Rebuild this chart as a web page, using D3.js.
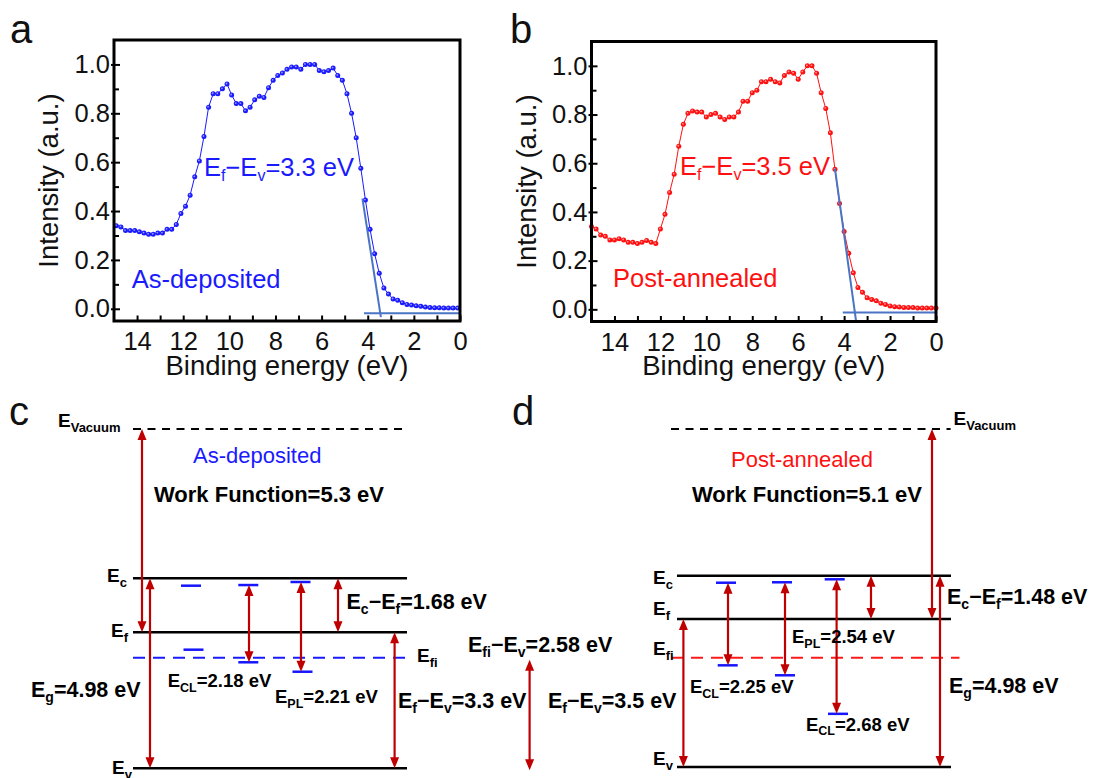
<!DOCTYPE html>
<html><head><meta charset="utf-8">
<script src="https://cdn.jsdelivr.net/npm/d3@7"></script>
<style>
body{margin:0;background:#fff;}
svg{display:block;font-family:"Liberation Sans",Arial,Helvetica,sans-serif;}
</style>
</head><body>
<svg id="fig" width="1095" height="778"></svg>
<script>
// ---------------- DATA ----------------
const energyA = [14.9,14.7,14.5,14.3,14.1,13.9,13.7,13.5,13.3,13.1,12.9,12.7,12.5,12.3,12.1,11.9,11.7,11.5,11.3,11.1,10.9,10.7,10.5,10.3,10.1,9.9,9.7,9.5,9.3,9.1,8.9,8.7,8.5,8.3,8.1,7.9,7.7,7.5,7.3,7.1,6.9,6.7,6.5,6.3,6.1,5.9,5.7,5.5,5.3,5.1,4.9,4.7,4.5,4.3,4.1,3.9,3.7,3.5,3.3,3.1,2.9,2.7,2.5,2.3,2.1,1.9,1.7,1.5,1.3,1.1,0.9,0.7,0.5,0.3,0.1];
const intensityA = [0.34,0.335,0.32,0.32,0.32,0.315,0.31,0.305,0.305,0.31,
  0.31,0.325,0.325,0.345,0.39,0.42,0.465,0.54,0.605,0.705,
  0.825,0.88,0.88,0.90,0.92,0.875,0.84,0.84,0.81,0.825,
  0.855,0.87,0.865,0.905,0.935,0.955,0.965,0.98,0.99,0.99,
  0.98,1.0,1.0,1.0,0.975,0.97,0.975,0.985,0.955,0.935,
  0.88,0.80,0.70,0.575,0.445,0.325,0.225,0.145,0.085,0.06,
  0.04,0.035,0.025,0.018,0.015,0.012,0.01,0.007,0.005,0.004,
  0.004,0.003,0.003,0.003,0.003];
const energyB = [15.0,14.8,14.6,14.4,14.2,14.0,13.8,13.6,13.4,13.2,13.0,12.8,12.6,12.4,12.2,12.0,11.8,11.6,11.4,11.2,11.0,10.8,10.6,10.4,10.2,10.0,9.8,9.6,9.4,9.2,9.0,8.8,8.6,8.4,8.2,8.0,7.8,7.6,7.4,7.2,7.0,6.8,6.6,6.4,6.2,6.0,5.8,5.6,5.4,5.2,5.0,4.8,4.6,4.4,4.2,4.0,3.8,3.6,3.4,3.2,3.0,2.8,2.6,2.4,2.2,2.0,1.8,1.6,1.4,1.2,1.0,0.8,0.6,0.4,0.2,0.0];
const intensityB = [0.34,0.33,0.305,0.30,0.285,0.285,0.29,0.285,0.275,0.275,
  0.27,0.275,0.283,0.275,0.27,0.33,0.39,0.48,0.555,0.67,
  0.76,0.805,0.815,0.81,0.81,0.79,0.80,0.805,0.79,0.78,
  0.79,0.79,0.81,0.855,0.855,0.89,0.90,0.935,0.935,0.945,
  0.935,0.93,0.96,0.975,0.97,0.945,0.975,1.0,1.0,0.97,
  0.89,0.825,0.725,0.575,0.435,0.32,0.23,0.15,0.09,0.07,
  0.048,0.04,0.035,0.025,0.02,0.014,0.011,0.01,0.008,0.007,
  0.007,0.005,0.005,0.005,0.005,0.005];
const tangentA = [[4.23,0.451],[3.43,-0.034]];
const baseA = [[4.16,-0.018],[0.03,-0.018]];
const tangentB = [[4.40,0.578],[3.48,-0.048]];
const baseB = [[4.06,-0.013],[0.0,-0.013]];
const xMajorTicks = [14,12,10,8,6,4,2,0];
const xMinorTicks = [13,11,9,7,5,3,1];
const yMajorTicks = [0.0,0.2,0.4,0.6,0.8,1.0];
const yMinorTicks = [0.1,0.3,0.5,0.7,0.9];

// band diagram energies (eV, schematic)
const levelsC = {vac:8.6, Ec:4.98, Ef:3.3, Efi:2.58, Ev:0};
const levelsD = {vac:8.6, Ec:4.98, Ef:3.5, Efi:2.58, Ev:0};
const defectsC = [4.75, 4.77, 4.865, 2.807, 2.473, 2.253];
const defectsD = [4.74, 4.755, 4.857, 2.40, 2.165, 1.255];
const transitionsC = [[4.77, 2.473], [4.865, 2.253]];
const transitionsD = [[4.74, 2.40], [4.755, 2.165], [4.857, 1.255]];

// ---------------- LAYOUT ----------------
const svg = d3.select("#fig");
const FONT_TICK = 25.5, FONT_TITLE = 27.5;
const BLUE = "#1a1aff", RED = "#ff1010", ARROW = "#c00000", TAN = "#4a74c4";

function rich(g, x, y, parts, o) {
  const t = g.append("text").attr("x", x).attr("y", y)
    .attr("font-size", o.size).attr("font-weight", o.weight || "normal")
    .attr("fill", o.color || "#000").attr("text-anchor", o.anchor || "start");
  let cur = 0;
  parts.forEach(p => {
    const s = t.append("tspan").text(p.t);
    const target = p.sub ? (o.shift || 5) : 0;
    if (target !== cur) { s.attr("dy", target - cur); cur = target; }
    if (p.sub) s.attr("font-size", o.subSize);
  });
  return t;
}

function xpsPanel(o) {
  const g = svg.append("g");
  const x = d3.scaleLinear().domain([15, 0]).range([o.left, o.right]);
  const y = d3.scaleLinear().domain([-0.05, 1.1]).range([o.bottom, o.top]);
  const pts = d3.zip(o.E, o.I);
  g.append("path").datum(pts)
    .attr("d", d3.line().x(d => x(d[0])).y(d => y(d[1])))
    .attr("fill", "none").attr("stroke", o.color).attr("stroke-width", 1);
  g.selectAll("circle.p").data(pts).join("circle").attr("class", "p")
    .attr("cx", d => x(d[0])).attr("cy", d => y(d[1])).attr("r", 2.5)
    .attr("fill", o.color);
  g.selectAll("circle.h").data(pts).join("circle").attr("class", "h")
    .attr("cx", d => x(d[0]) - 0.5).attr("cy", d => y(d[1]) - 0.5).attr("r", 0.9)
    .attr("fill", "#fff").attr("opacity", 0.55);
  const ln = d3.line().x(d => x(d[0])).y(d => y(d[1]));
  [o.tangent, o.base].forEach(seg => {
    g.append("path").attr("d", ln(seg)).attr("stroke", TAN).attr("stroke-width", 2).attr("fill", "none");
  });
  // axes
  const styleAxis = s => {
    s.select(".domain").remove();
    s.attr("font-size", FONT_TICK).attr("font-family", null);
    s.selectAll("text").attr("fill", "#111");
    s.selectAll("line").attr("stroke", "#000").attr("stroke-width", 2);
  };
  g.append("g").attr("transform", `translate(0,${o.bottom})`)
    .call(d3.axisBottom(x).tickValues(xMajorTicks).tickFormat(d3.format("d")).tickSize(-5.5).tickPadding(11)).call(styleAxis);
  g.append("g").attr("transform", `translate(0,${o.bottom})`)
    .call(d3.axisBottom(x).tickValues(xMinorTicks).tickFormat("").tickSize(-5.5)).call(styleAxis);
  const ya = g.append("g").attr("transform", `translate(${o.left},0)`)
    .call(d3.axisLeft(y).tickValues(yMajorTicks).tickFormat(d3.format(".1f")).tickSize(-6).tickPadding(4)).call(styleAxis);
  ya.selectAll("line").attr("x1", -3);
  g.append("g").attr("transform", `translate(${o.left},0)`)
    .call(d3.axisLeft(y).tickValues(yMinorTicks).tickFormat("").tickSize(-5)).call(styleAxis);
  // frame
  g.append("rect").attr("x", o.left).attr("y", o.top).attr("width", o.right - o.left).attr("height", o.bottom - o.top)
    .attr("fill", "none").attr("stroke", "#000").attr("stroke-width", 3);
  // titles
  g.append("text").attr("x", (o.left + o.right) / 2).attr("y", 375).attr("text-anchor", "middle")
    .attr("font-size", FONT_TITLE).attr("fill", "#111").text("Binding energy (eV)");
  g.append("text").attr("transform", `translate(${o.left - 56},${(o.top + o.bottom) / 2})rotate(-90)`)
    .attr("text-anchor", "middle").attr("font-size", FONT_TITLE).attr("fill", "#111").text("Intensity (a.u.)");
  // annotations
  rich(g, o.annX, o.annY, [{t:"E"},{t:"f",sub:true},{t:"\u2212E"},{t:"v",sub:true},{t:o.annVal}],
    {size: 25.5, subSize: 16, shift: 5, color: o.color});
  g.append("text").attr("x", o.lblX).attr("y", o.lblY).attr("font-size", 25.5).attr("fill", o.color).text(o.label);
}

xpsPanel({left:114, right:460, top:40, bottom:321, E:energyA, I:intensityA, color:BLUE,
  tangent:tangentA, base:baseA, annX:204, annY:175.7, annVal:"=3.3 eV", lblX:131.7, lblY:288, label:"As-deposited"});
xpsPanel({left:591.5, right:936, top:41.5, bottom:321.5, E:energyB, I:intensityB, color:RED,
  tangent:tangentB, base:baseB, annX:680, annY:175, annVal:"=3.5 eV", lblX:613, lblY:286.7, label:"Post-annealed"});

// panel letters
[["a",10,43],["b",510,43],["c",9,425],["d",512,425]].forEach(([t,x,y]) => {
  svg.append("text").attr("x", x).attr("y", y).attr("font-size", 40).attr("fill", "#111").text(t);
});

// ---------------- BAND DIAGRAMS ----------------
function hline(g, x1, x2, yv, color, dash, w) {
  g.append("line").attr("x1", x1).attr("x2", x2).attr("y1", yv).attr("y2", yv)
    .attr("stroke", color).attr("stroke-width", w || 2.5).attr("stroke-dasharray", dash || null);
}
function arrow(g, x, y1, y2) {
  const L = 11, W = 4.5;
  g.append("line").attr("x1", x).attr("x2", x).attr("y1", y1 + L - 2).attr("y2", y2 - L + 2)
    .attr("stroke", ARROW).attr("stroke-width", 2.2);
  g.append("path").attr("d", `M${x},${y1}L${x - W},${y1 + L}L${x + W},${y1 + L}Z`).attr("fill", ARROW);
  g.append("path").attr("d", `M${x},${y2}L${x - W},${y2 - L}L${x + W},${y2 - L}Z`).attr("fill", ARROW);
}
const BIG = {size: 21.5, subSize: 14, shift: 5, weight: "bold"};
const MID = {size: 18.5, subSize: 12.5, shift: 4.5, weight: "bold"};
const LVL = {size: 19, subSize: 13, shift: 5, weight: "bold"};

function diagram(o) {
  const g = svg.append("g");
  const L = o.levels;
  const y = d3.scaleLinear().domain([L.Ev, L.Efi, L.Ef, L.Ec, L.vac]).range(o.yRange);
  hline(g, o.vacX[0], o.vacX[1], y(L.vac), "#000", "8,6.5", 2);
  hline(g, o.lvX[0], o.lvX[1], y(L.Ec), "#000");
  hline(g, o.lvX[0], o.lvX[1], y(L.Ef), "#000");
  hline(g, o.efiX[0], o.efiX[1], y(L.Efi), o.efiColor, "12,8", 2);
  hline(g, o.lvX[0], o.lvX[1], y(L.Ev), "#000");
  o.defects.forEach((e, i) => hline(g, o.defX[i] - 10, o.defX[i] + 10, y(e), "#1515ff", null, 2.5));
  o.transitions.forEach((t, i) => arrow(g, o.trX[i], y(t[0]), y(t[1])));
  arrow(g, o.wfX, y(L.vac), y(L.Ef));
  arrow(g, o.egX, y(L.Ec), y(L.Ev));
  arrow(g, o.ecefX, y(L.Ec), y(L.Ef));
  arrow(g, o.efevX, y(L.Ef), y(L.Ev));
  if (o.efievX) arrow(g, o.efievX, y(L.Efi) + 2, y(L.Ev) + 2);
  o.texts.forEach(t => rich(g, t[0], t[1], t[2], t[3]));
  g.append("text").attr("x", o.titleX).attr("y", o.titleY).attr("font-size", 22).attr("fill", o.titleColor).text(o.title);
}

diagram({
  levels: levelsC, yRange: [768.3, 657.7, 632.3, 578.3, 429],
  vacX: [133, 407], lvX: [133, 407], efiX: [133, 409], efiColor: "#1a1aff",
  defects: defectsC, defX: [191, 248.3, 300.5, 193.5, 248.3, 302.5],
  transitions: transitionsC, trX: [249, 301],
  wfX: 142, egX: 150, ecefX: 338, efevX: 394.6, efievX: 529.6,
  title: "As-deposited", titleX: 193, titleY: 463, titleColor: BLUE,
  texts: [
    [58, 426.7, [{t:"E"},{t:"Vacuum",sub:true}], LVL],
    [154, 501.7, [{t:"Work Function=5.3 eV"}], {size:22, weight:"bold"}],
    [107, 581.7, [{t:"E"},{t:"c",sub:true}], LVL],
    [111, 637, [{t:"E"},{t:"f",sub:true}], LVL],
    [112, 774, [{t:"E"},{t:"v",sub:true}], LVL],
    [417, 662, [{t:"E"},{t:"fi",sub:true}], LVL],
    [346.5, 609.3, [{t:"E"},{t:"c",sub:true},{t:"\u2212E"},{t:"f",sub:true},{t:"=1.68 eV"}], BIG],
    [31, 696.7, [{t:"E"},{t:"g",sub:true},{t:"=4.98 eV"}], BIG],
    [167.7, 687.3, [{t:"E"},{t:"CL",sub:true},{t:"=2.18 eV"}], MID],
    [275, 703.3, [{t:"E"},{t:"PL",sub:true},{t:"=2.21 eV"}], MID],
    [398, 708.3, [{t:"E"},{t:"f",sub:true},{t:"\u2212E"},{t:"v",sub:true},{t:"=3.3 eV"}], BIG],
    [468, 651.7, [{t:"E"},{t:"fi",sub:true},{t:"\u2212E"},{t:"v",sub:true},{t:"=2.58 eV"}], BIG]
  ]
});

diagram({
  levels: levelsD, yRange: [767, 657.7, 619, 575.7, 429],
  vacX: [671, 950.6], lvX: [677, 951], efiX: [671, 959.5], efiColor: "#ff1a1a",
  defects: defectsD, defX: [726, 782, 834.7, 727.7, 785, 838],
  transitions: transitionsD, trX: [728, 785, 836.6],
  wfX: 932, egX: 940, ecefX: 871, efevX: 683.4, efievX: null,
  title: "Post-annealed", titleX: 731, titleY: 466.7, titleColor: RED,
  texts: [
    [953.5, 425, [{t:"E"},{t:"Vacuum",sub:true}], LVL],
    [692, 501.7, [{t:"Work Function=5.1 eV"}], {size:22, weight:"bold"}],
    [653, 584, [{t:"E"},{t:"c",sub:true}], LVL],
    [653, 615, [{t:"E"},{t:"f",sub:true}], LVL],
    [653, 655, [{t:"E"},{t:"fi",sub:true}], LVL],
    [653, 765, [{t:"E"},{t:"v",sub:true}], LVL],
    [947, 604, [{t:"E"},{t:"c",sub:true},{t:"\u2212E"},{t:"f",sub:true},{t:"=1.48 eV"}], BIG],
    [949, 693.3, [{t:"E"},{t:"g",sub:true},{t:"=4.98 eV"}], BIG],
    [792, 643.3, [{t:"E"},{t:"PL",sub:true},{t:"=2.54 eV"}], MID],
    [690, 693.3, [{t:"E"},{t:"CL",sub:true},{t:"=2.25 eV"}], MID],
    [806, 730.7, [{t:"E"},{t:"CL",sub:true},{t:"=2.68 eV"}], MID],
    [548, 708.3, [{t:"E"},{t:"f",sub:true},{t:"\u2212E"},{t:"v",sub:true},{t:"=3.5 eV"}], BIG]
  ]
});
</script>
</body></html>
